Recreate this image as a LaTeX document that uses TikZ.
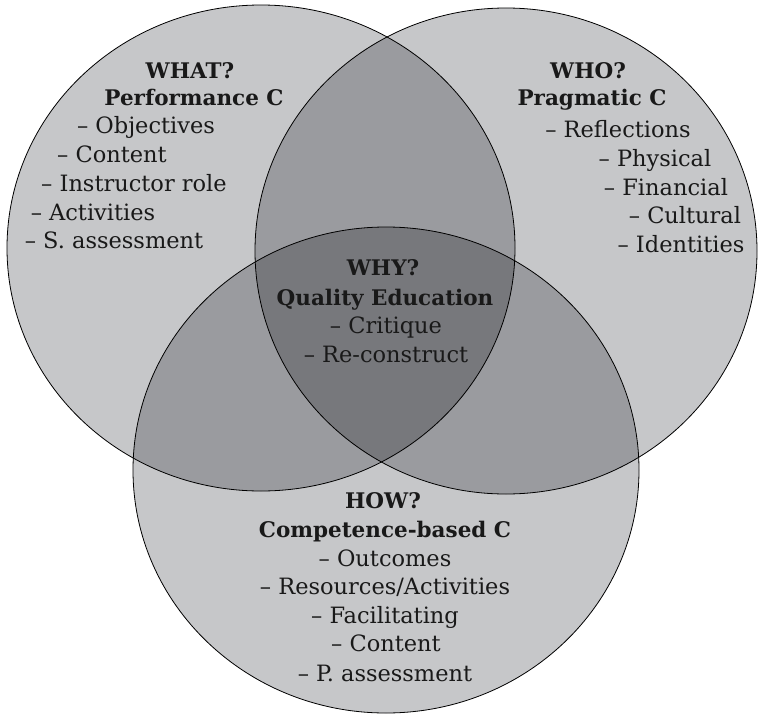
\documentclass[tikz,border=0pt]{standalone}
\usepackage{fontspec}
\setmainfont{DejaVu Serif}
\definecolor{cone}{RGB}{198,199,201}
\definecolor{ctwo}{RGB}{154,155,159}
\definecolor{cthree}{RGB}{119,120,124}
\definecolor{ink}{RGB}{25,25,25}
\tikzset{
  lab/.style={anchor=base, inner sep=0pt, text=ink, font=\fontsize{22.5}{26}\selectfont},
  head/.style={lab, font=\fontsize{21.5}{26}\selectfont\bfseries},
  rim/.style={draw=black, line width=0.8pt}
}
\newcommand{\ellA}{(261,248) ellipse [x radius=254pt, y radius=243pt]}
\newcommand{\ellB}{(506,251) ellipse [x radius=251pt, y radius=243pt]}
\newcommand{\ellC}{(386,470) ellipse [x radius=253pt, y radius=243pt]}
\begin{document}
\begin{tikzpicture}[x=1pt, y=-1pt]
\useasboundingbox (0,0) rectangle (758,715);
% base fills
\fill[cone] \ellA;
\fill[cone] \ellB;
\fill[cone] \ellC;
% pairwise overlaps
\begin{scope}
  \clip \ellA;
  \fill[ctwo] \ellB;
  \fill[ctwo] \ellC;
\end{scope}
\begin{scope}
  \clip \ellB;
  \fill[ctwo] \ellC;
\end{scope}
% triple overlap
\begin{scope}
  \clip \ellA;
  \clip \ellB;
  \fill[cthree] \ellC;
\end{scope}
% outlines
\draw[rim] \ellA;
\draw[rim] \ellB;
\draw[rim] \ellC;
% WHAT circle
\node[head] (a1) at (190,78) {WHAT?};
\node[head] (a2) at (194,105) {Performance C};
\node[lab] (a3) at (146,133) {– Objectives};
\node[lab] (a4) at (112,162) {– Content};
\node[lab] (a5) at (134,191) {– Instructor role};
\node[lab] (a6) at (93,220) {– Activities};
\node[lab] (a7) at (114,248) {– S. assessment};
% WHO circle
\node[head] (b1) at (588,78) {WHO?};
\node[head] (b2) at (592,105) {Pragmatic C};
\node[lab] (b3) at (618,137) {– Reflections};
\node[lab] (b4) at (655,166) {– Physical};
\node[lab] (b5) at (666,195) {– Financial};
\node[lab] (b6) at (685,223) {– Cultural};
\node[lab] (b7) at (681,252) {– Identities};
% WHY centre
\node[head] (w1) at (383,275) {WHY?};
\node[head] (w2) at (385,305) {Quality Education};
\node[lab] (w3) at (386,333) {– Critique};
\node[lab] (w4) at (386,362) {– Re-construct};
% HOW circle
\node[head] (h1) at (383,508) {HOW?};
\node[head] (h2) at (385,537) {Competence-based C};
\node[lab] (h3) at (385,566) {– Outcomes};
\node[lab] (h4) at (385,594) {– Resources/Activities};
\node[lab] (h5) at (385,623) {– Facilitating};
\node[lab] (h6) at (386,651) {– Content};
\node[lab] (h7) at (385,681) {– P. assessment};
\end{tikzpicture}
\end{document}
